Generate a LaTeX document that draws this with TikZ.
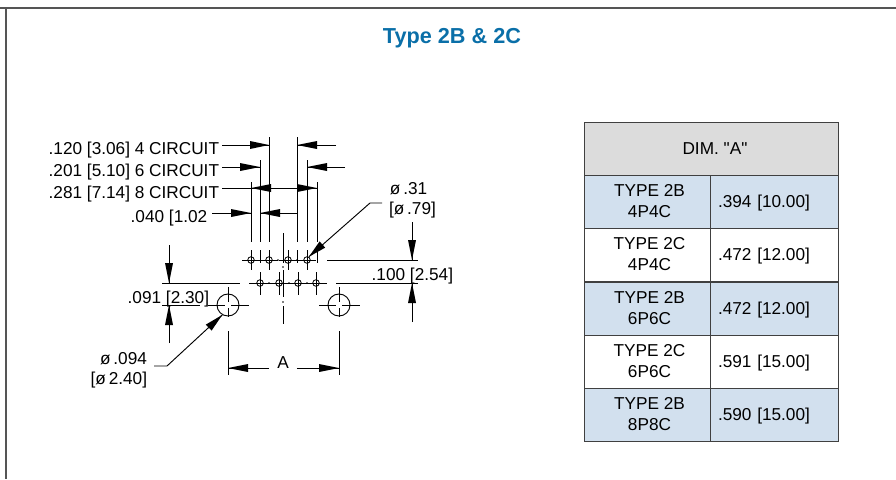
\documentclass[tikz,border=0pt]{standalone}
\usepackage{fontspec}
\setmainfont[Ligatures=TeXOff]{Liberation Sans}
\usetikzlibrary{calc}
\definecolor{framegray}{HTML}{555555}
\definecolor{titleblue}{HTML}{0A6FA8}
\definecolor{headgray}{HTML}{DCDCDC}
\definecolor{rowblue}{HTML}{D2E0EE}
\newcommand{\twolines}[2]{\hspace*{4.3pt}#1\\\hspace*{4.3pt}#2}
\begin{document}
\begin{tikzpicture}[x=0.3mm,y=0.3mm,
dim/.style={line width=0.8pt},
cline/.style={line width=0.7pt},
head/.style={fill=black},
lab/.style={font=\fontsize{14.7}{18}\selectfont,inner sep=0pt,outer sep=2.5pt},
cell/.style={draw=black!75,line width=0.8pt,font=\fontsize{14.7}{18}\selectfont,align=center,inner sep=0pt},
typecell/.style={cell,minimum width=107.5pt,minimum height=45.2pt},
valcell/.style={cell,align=left,text width=95.6pt,text height=12.5pt,text depth=3.1pt,minimum height=45.2pt,inner xsep=6.83pt},
bigring/.style={circle,draw,line width=0.8pt,minimum size=18.8pt,inner sep=0pt},
smallring/.style={circle,draw,line width=0.7pt,minimum size=5.6pt,inner sep=0pt}]
\useasboundingbox (0,0) rectangle (896,-479);
% frame and title
\draw [framegray, line width=1.2pt] (0,-8) -- (896,-8);
\draw [framegray, line width=1.2pt] (6,-8) -- (6,-479);
\node [font=\fontsize{18.5}{22}\selectfont\bfseries, text=titleblue, inner sep=0pt] (title) at (452,-38) {Type 2B \& 2C};
% labels
\node [lab, anchor=base east] (l120) at (222,-154) {.120 [3.06] 4 CIRCUIT};
\node [lab, anchor=base east] (l201) at (222,-176) {.201 [5.10] 6 CIRCUIT};
\node [lab, anchor=base east] (l281) at (222,-198) {.281 [7.14] 8 CIRCUIT};
\node [lab, anchor=base east, outer sep=4pt] (l040) at (212,-222) {.040 [1.02};
\node [lab, anchor=base west] (l31) at (387,-194) {ø\,.31};
\node [lab, anchor=base west, outer sep=6pt] (l79) at (382,-214) {[ø\,.79]};
\node [lab, anchor=base east] (l100) at (456,-280) {.100 [2.54]};
\node [lab, anchor=base east] (l091) at (212,-303) {.091 [2.30]};
\node [lab, anchor=base east, outer sep=6pt] (l094) at (154,-364) {ø\,.094};
\node [lab, anchor=base east] (l240) at (150,-384) {[ø\,2.40]};
\node [lab, outer sep=7pt] (lA) at (283,-363) {A};
% holes
\foreach \x [count=\i] in {251,269,288,307} {
\node [smallring] (holeA\i) at (\x,-260) {};
\draw [cline] (\x-9,-260) -- (\x+9,-260);
\draw [cline] (\x,-250) -- (\x,-270);
}
\foreach \x [count=\i] in {260,279,298,316} {
\node [smallring] (holeB\i) at (\x,-283) {};
\draw [cline] (\x-11,-283) -- (\x+11,-283);
\draw [cline] (\x,-272) -- (\x,-295);
}
\foreach \x in {278,297} \fill (\x,-260) circle (0.9);
\foreach \x in {269,289,307} \fill (\x,-283) circle (0.9);
\node [bigring] (holeL) at (228,-305) {};
\node [bigring] (holeR) at (339,-305) {};
\foreach \x in {228,339} {
\draw [cline] (\x-20,-305) -- (\x-3,-305);
\draw [cline] (\x+3,-305) -- (\x+21,-305);
\draw [cline] (\x,-287) -- (\x,-302);
\draw [cline] (\x,-308) -- (\x,-317);
}
% centre line
\foreach \a/\b in {233/263,270/297,306/324} \draw [cline] (283,-\a) -- (283,-\b);
\foreach \a in {267,302} \fill (283,-\a) circle (0.9);
% extension lines
\foreach \x/\y in {269/137,297/137,260/160,307/160,251/182,317/182} {
\draw [dim] (\x,-\y) -- (\x,-242);
}
\foreach \x in {260,297,317} \draw [dim] (\x,-250) -- (\x,-263);
\draw [dim] (327,-260) -- (418,-260);
\draw [dim] (336,-283) -- (418,-283);
\draw [dim] (162,-283) -- (240,-283);
\draw [dim] (162,-305) -- (200,-305);
\draw [dim] (228,-331) -- (228,-375);
\draw [dim] (339,-331) -- (339,-375);
% dimension lines
\coordinate (t120a) at (269,-145);
\coordinate (t120b) at (297,-145);
\coordinate (t201a) at (260,-167);
\coordinate (t201b) at (307,-167);
\coordinate (t281a) at (251,-188);
\coordinate (t281b) at (317,-188);
\coordinate (t040a) at (251,-213);
\coordinate (t040b) at (260,-213);
\coordinate (tAa) at (228,-368);
\coordinate (tAb) at (339,-368);
\draw [dim] (l120.east |- t120a) -- (t120a);
\fill [head] (t120a) -- (250,-141) -- (250,-149);
\draw [dim] (336,-145) -- (t120b);
\fill [head] (t120b) -- (317,-141) -- (317,-149);
\draw [dim] (l201.east |- t201a) -- (t201a);
\fill [head] (t201a) -- (240,-163) -- (240,-171);
\draw [dim] (345,-167) -- (t201b);
\fill [head] (t201b) -- (327,-163) -- (327,-171);
\draw [dim] (l281.east |- t281a) -- (t281b);
\fill [head] (t281a) -- (271,-184) -- (271,-192);
\fill [head] (t281b) -- (297,-184) -- (297,-192);
\draw [dim] (l040.east |- t040a) -- (t040a);
\fill [head] (t040a) -- (231,-209) -- (231,-217);
\draw [dim] (298,-213) -- (t040b);
\fill [head] (t040b) -- (280,-209) -- (280,-217);
\draw [dim] (lA.west |- tAa) -- (tAa);
\fill [head] (tAa) -- (248,-364) -- (248,-372);
\draw [dim] (lA.east |- tAb) -- (tAb);
\fill [head] (tAb) -- (319,-364) -- (319,-372);
% vertical dimensions
\draw [dim] (412,-222) -- (412,-260);
\fill [head] (412,-260) -- (408,-240) -- (416,-240);
\draw [dim] (412,-322) -- (412,-283);
\fill [head] (412,-283) -- (408,-303) -- (416,-303);
\draw [dim] (169,-245) -- (169,-283);
\fill [head] (169,-283) -- (165,-263) -- (173,-263);
\draw [dim] (169,-343) -- (169,-305);
\fill [head] (169,-305) -- (165,-325) -- (173,-325);
% leaders
\coordinate (bend31) at (370,-203);
\coordinate (bend94) at (167,-366);
\draw [dim] (l79.west |- bend31) -- (bend31) -- (holeA4.60);
\fill [head] (holeA4.60) -- (325.2,-247.6) -- (319.6,-241.4);
\draw [dim] (l094.east |- bend94) -- (bend94) -- (holeL.240);
\fill [head] (holeL.240) -- (211.6,-330.6) -- (205.8,-324.6);
% table
\node [cell, fill=headgray, minimum width=216.8pt, minimum height=45.2pt] (dimA) at (711,-148.5) {\hspace*{6.8pt}DIM. "A"};
\node [typecell, fill=rowblue] (t1) at (647,-201.5) {\twolines{TYPE 2B}{4P4C}};
\node [valcell, fill=rowblue] (v1) at (774,-201.5) {.394 [10.00]};
\node [typecell] (t2) at (647,-254.5) {\twolines{TYPE 2C}{4P4C}};
\node [valcell] (v2) at (774,-254.5) {.472 [12.00]};
\node [typecell, fill=rowblue] (t3) at (647,-308.5) {\twolines{TYPE 2B}{6P6C}};
\node [valcell, fill=rowblue] (v3) at (774,-308.5) {.472 [12.00]};
\node [typecell] (t4) at (647,-361.5) {\twolines{TYPE 2C}{6P6C}};
\node [valcell] (v4) at (774,-361.5) {.591 [15.00]};
\node [typecell, fill=rowblue] (t5) at (647,-414.5) {\twolines{TYPE 2B}{8P8C}};
\node [valcell, fill=rowblue] (v5) at (774,-414.5) {.590 [15.00]};
\end{tikzpicture}
\end{document}
